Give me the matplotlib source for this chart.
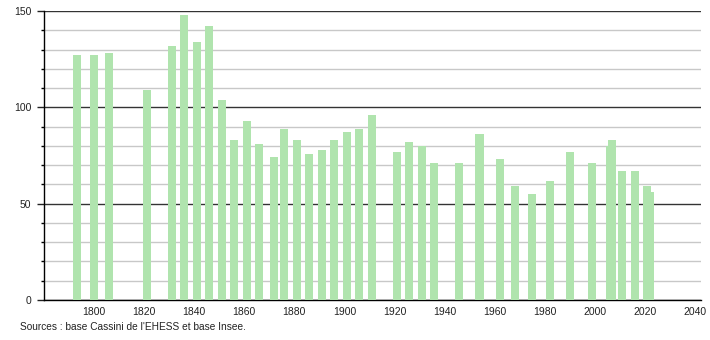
import matplotlib
matplotlib.use("Agg")
import matplotlib.pyplot as plt
from matplotlib.ticker import MultipleLocator

years = [1793, 1800, 1806, 1821, 1831, 1836, 1841, 1846, 1851, 1856,
         1861, 1866, 1872, 1876, 1881, 1886, 1891, 1896, 1901, 1906,
         1911, 1921, 1926, 1931, 1936, 1946, 1954, 1962, 1968, 1975,
         1982, 1990, 1999, 2006, 2007, 2011, 2016, 2021, 2022]
population = [127, 127, 128, 109, 132, 148, 134, 142, 104, 83,
              93, 81, 74, 89, 83, 76, 78, 83, 87, 89,
              96, 77, 82, 80, 71, 71, 86, 73, 59, 55,
              62, 77, 71, 80, 83, 67, 67, 59, 56]
x_ticks = list(range(1800, 2041, 20))
y_ticks = [0, 50, 100, 150]
source = "Sources : base Cassini de l'EHESS et base Insee."

plt.rcParams['font.family'] = ['Liberation Sans', 'DejaVu Sans']

fig = plt.figure(figsize=(7.1, 3.4), dpi=100)
ax = fig.add_axes([44/710, 40/340, (701-44)/710, 289/340])

ax.bar(years, population, width=3.2, color='#b0e4ae', zorder=3, linewidth=0)

ax.set_xlim(1780, 2042.5)
ax.set_ylim(0, 150)
ax.set_xticks(x_ticks)
ax.set_yticks(y_ticks)
ax.yaxis.set_minor_locator(MultipleLocator(10))

ax.grid(axis='y', which='minor', color='#c8c8c8', linewidth=1, zorder=1)
ax.grid(axis='y', which='major', color='#333333', linewidth=1, zorder=2)
ax.set_axisbelow(True)

for s in ['top', 'right']:
    ax.spines[s].set_visible(False)
ax.spines['left'].set_color('#000000')
ax.spines['bottom'].set_color('#000000')
ax.spines['left'].set_linewidth(1)
ax.spines['bottom'].set_linewidth(1)

ax.tick_params(axis='x', length=0, pad=5, labelsize=7.5, colors='#222222')
ax.tick_params(axis='y', which='major', length=5, width=1, pad=4, labelsize=7.5, colors='#222222')
ax.tick_params(axis='y', which='minor', length=2.5, width=1, color='#000000')

fig.text(20/710, 1 - 327/340, source, fontsize=7.3, color='#222222', va='center', ha='left')

fig.savefig('out.png', dpi=100)
